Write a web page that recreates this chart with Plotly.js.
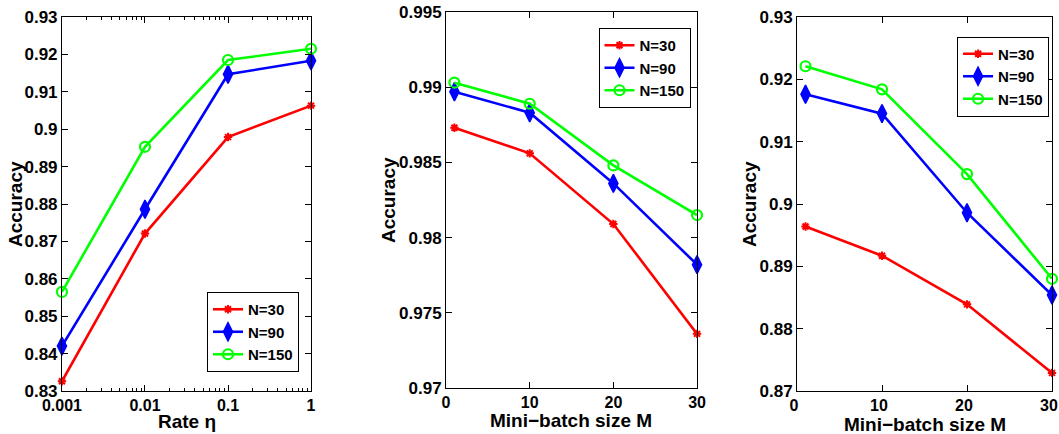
<!DOCTYPE html>
<html><head><meta charset="utf-8">
<script src="https://cdn.plot.ly/plotly-3.0.1.min.js"></script>
<style>html,body{margin:0;padding:0;background:#fff}#chart{width:1059px;height:434px}</style>
</head><body><div id="chart"></div>
<script>
// ---- data ----
const seriesNames = ['N=30', 'N=90', 'N=150'];

// Panel 1: accuracy vs rate eta
const rateX = [0.001, 0.01, 0.1, 1];
const rateTickText = ['0.001', '0.01', '0.1', '1'];
const rateN30 = [0.8326, 0.8721, 0.8979, 0.9063];
const rateN90 = [0.8420, 0.8786, 0.9147, 0.9183];
const rateN150 = [0.8565, 0.8953, 0.9185, 0.9215];
const rateYTicks = [0.83, 0.84, 0.85, 0.86, 0.87, 0.88, 0.89, 0.90, 0.91, 0.92, 0.93];
const rateYTickText = ['0.83', '0.84', '0.85', '0.86', '0.87', '0.88', '0.89', '0.9', '0.91', '0.92', '0.93'];

// Panel 2: accuracy vs mini-batch size M
const batchX = [1, 10, 20, 30];
const batchXTicks = [0, 10, 20, 30];
const batchXTickText = ['0', '10', '20', '30'];
const batchAN30 = [0.9873, 0.9856, 0.9809, 0.9736];
const batchAN90 = [0.9897, 0.9883, 0.9836, 0.9782];
const batchAN150 = [0.9903, 0.9889, 0.9848, 0.9815];
const batchAYTicks = [0.970, 0.975, 0.980, 0.985, 0.990, 0.995];
const batchAYTickText = ['0.97', '0.975', '0.98', '0.985', '0.99', '0.995'];

// Panel 3: accuracy vs mini-batch size M
const batchBN30 = [0.8964, 0.8917, 0.8839, 0.8729];
const batchBN90 = [0.9176, 0.9145, 0.8986, 0.8854];
const batchBN150 = [0.9221, 0.9184, 0.9048, 0.8880];
const batchBYTicks = [0.87, 0.88, 0.89, 0.90, 0.91, 0.92, 0.93];
const batchBYTickText = ['0.87', '0.88', '0.89', '0.9', '0.91', '0.92', '0.93'];

// axis titles
const xTitles = ['Rate η', 'Mini−batch size M', 'Mini−batch size M'];
const yTitle = 'Accuracy';

// ---- styles ----
const colors = ['#ff0000', '#0000ff', '#00ff00'];
const markers = [
  {symbol: 'asterisk-open', size: 7, line: {color: colors[0], width: 2}},
  {symbol: 'diamond-tall', size: 13, color: colors[1], line: {color: colors[1], width: 1.5}},
  {symbol: 'circle-open', size: 10, color: colors[2], line: {color: colors[2], width: 2.2}}
];
const FONT = 'Liberation Sans, Arial, Helvetica, sans-serif';
const yTickFont = {family: FONT, size: 17, color: '#000', weight: 'bold'};
const xTickFont = {family: FONT, size: 16, color: '#000', weight: 'bold'};
const xTitleFont = {family: FONT, size: 19, color: '#000', weight: 'bold'};
const yTitleFont = {family: FONT, size: 19, color: '#000', weight: 'bold'};
const legFont = {family: FONT, size: 15, color: '#000', weight: 'bold'};

// minor tick positions for the log axis (2..9 in each decade)
const logMinor = [];
for (let d = 0.001; d < 1; d *= 10) {
  for (let k = 2; k <= 9; k++) logMinor.push(+(k * d).toPrecision(3));
}

function mk(x, y, i, xa, ya, leg) {
  return {
    x: x, y: y, type: 'scatter', mode: 'lines+markers', name: seriesNames[i],
    xaxis: xa, yaxis: ya, legend: leg, cliponaxis: false,
    line: {color: colors[i], width: 2.6},
    marker: markers[i]
  };
}

const traces = [
  mk(rateX, rateN30, 0, 'x', 'y', 'legend'),
  mk(rateX, rateN90, 1, 'x', 'y', 'legend'),
  mk(rateX, rateN150, 2, 'x', 'y', 'legend'),
  mk(batchX, batchAN30, 0, 'x2', 'y2', 'legend2'),
  mk(batchX, batchAN90, 1, 'x2', 'y2', 'legend2'),
  mk(batchX, batchAN150, 2, 'x2', 'y2', 'legend2'),
  mk(batchX, batchBN30, 0, 'x3', 'y3', 'legend3'),
  mk(batchX, batchBN90, 1, 'x3', 'y3', 'legend3'),
  mk(batchX, batchBN150, 2, 'x3', 'y3', 'legend3')
];

function axisBase(font) {
  return {
    showline: true, linecolor: '#000', linewidth: 1, mirror: 'ticks',
    ticks: 'inside', ticklen: 6, tickcolor: '#000', tickwidth: 1,
    showgrid: false, zeroline: false, tickfont: font, automargin: false,
    ticklabeloverflow: 'allow', fixedrange: true
  };
}
function xa(domain, anchor, extra) {
  return Object.assign(axisBase(xTickFont), {domain: domain, anchor: anchor}, extra);
}
function ya(domain, anchor, extra) {
  return Object.assign(axisBase(yTickFont), {domain: domain, anchor: anchor}, extra);
}
function leg(x, y, xanchor) {
  return {x: x, y: y, xanchor: xanchor, yanchor: 'middle', bgcolor: '#fff',
    bordercolor: '#000', borderwidth: 1, font: legFont, tracegroupgap: 0,
    itemwidth: 30};
}
function xTitle(text, xc, yc) {
  return {text: text, xref: 'paper', yref: 'paper', x: xc / 1059, y: 1 - yc / 434,
    xanchor: 'center', yanchor: 'middle', showarrow: false, font: xTitleFont};
}
function yTitleAnn(xc, yc) {
  return {text: yTitle, xref: 'paper', yref: 'paper', x: xc / 1059, y: 1 - yc / 434,
    xanchor: 'center', yanchor: 'middle', showarrow: false, textangle: -90, font: yTitleFont};
}

const layout = {
  width: 1059, height: 434,
  margin: {l: 0, r: 0, t: 0, b: 0},
  paper_bgcolor: '#fff', plot_bgcolor: '#fff',
  showlegend: true,
  xaxis: xa([0.0585, 0.2937], 'y', {type: 'log', range: [-3, 0],
    tickvals: rateX, ticktext: rateTickText,
    minor: {tickmode: 'array', tickvals: logMinor, ticks: 'inside', ticklen: 3,
      tickcolor: '#000', showgrid: false}}),
  yaxis: ya([0.0991, 0.9608], 'x', {range: [0.83, 0.93], tickvals: rateYTicks, ticktext: rateYTickText}),
  xaxis2: xa([0.4212, 0.6582], 'y2', {range: [0, 30], tickvals: batchXTicks, ticktext: batchXTickText}),
  yaxis2: ya([0.1060, 0.9724], 'x2', {range: [0.97, 0.995], tickvals: batchAYTicks, ticktext: batchAYTickText}),
  xaxis3: xa([0.7526, 0.9934], 'y3', {range: [0, 30], tickvals: batchXTicks, ticktext: batchXTickText,
    ticklabelshift: -3}),
  yaxis3: ya([0.0991, 0.9608], 'x3', {range: [0.87, 0.93], tickvals: batchBYTicks, ticktext: batchBYTickText}),
  legend: leg(0.2389, 0.2350, 'center'),
  legend2: leg(0.6086, 0.8433, 'center'),
  legend3: leg(0.9906, 0.8237, 'right'),
  annotations: [
    xTitle(xTitles[0], 187, 421),
    xTitle(xTitles[1], 571, 420),
    xTitle(xTitles[2], 925, 424),
    yTitleAnn(16, 204),
    yTitleAnn(388, 200),
    yTitleAnn(750, 204)
  ]
};

Plotly.newPlot('chart', traces, layout, {staticPlot: true, displayModeBar: false});
</script>
</body></html>
